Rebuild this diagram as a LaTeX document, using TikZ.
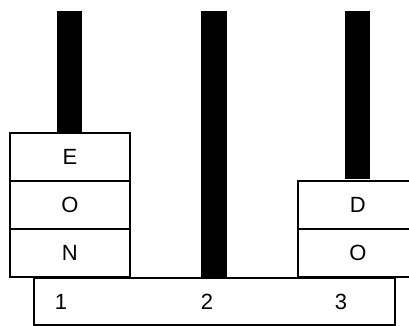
\documentclass[tikz,border=0pt]{standalone}
\usepackage{fontspec}
\setmainfont{Liberation Sans}
\begin{document}
\begin{tikzpicture}[x=1pt,y=-1pt,
  txt/.style={font=\fontsize{22}{26}\selectfont},
  disk/.style={draw=black,line width=1.8pt,fill=white,minimum width=120pt,minimum height=48pt,inner sep=0pt,txt,anchor=north west},
  pole/.style={fill=black,draw=none},
  lbl/.style={txt,inner sep=0pt}]
\useasboundingbox (0,0) rectangle (409,325);
% poles
\fill[pole] (57,11) rectangle (82,132);
\fill[pole] (201,11) rectangle (227,277);
\fill[pole] (345,11) rectangle (370,179);
% base
\node[draw=black,line width=1.8pt,minimum width=361pt,minimum height=47pt,inner sep=0pt,anchor=north west] (base) at (33,277) {};
\node[lbl] (l1) at (61,302) {1};
\node[lbl] (l2) at (207,302) {2};
\node[lbl] (l3) at (341,302) {3};
% left stack
\node[disk] (e) at (9,132) {E};
\node[disk] (o1) at (9,180) {O};
\node[disk] (n) at (9,228) {N};
% right stack
\node[disk] (d) at (297,180) {D};
\node[disk] (o2) at (297,228) {O};
\end{tikzpicture}
\end{document}
